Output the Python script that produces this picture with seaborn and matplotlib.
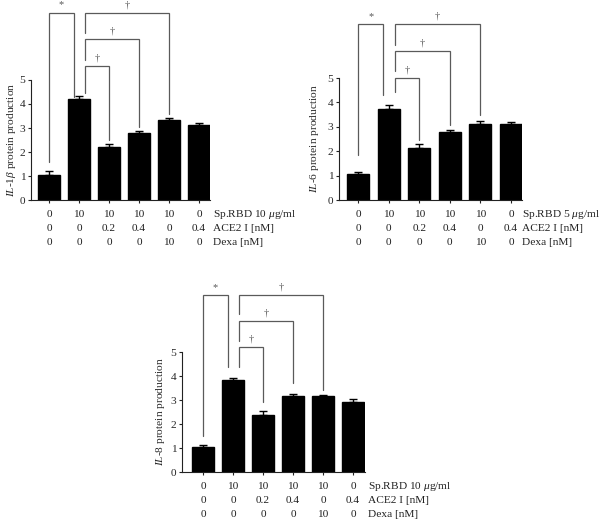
import numpy as np
import pandas as pd
import matplotlib as mpl
import matplotlib.pyplot as plt
import seaborn as sns

sns.set_style("ticks")
plt.rcParams['font.family'] = ['Liberation Serif', 'DejaVu Serif']
plt.rcParams['mathtext.fontset'] = 'custom'
plt.rcParams['mathtext.rm'] = 'Liberation Serif'
plt.rcParams['mathtext.it'] = 'Liberation Serif:italic'

# treatment groups (rows of the table under each panel)
groups = ["g1", "g2", "g3", "g4", "g5", "g6"]
sp_rbd = ["0", "10", "10", "10", "10", "0"]
ace2 = ["0", "0", "0.2", "0.4", "0", "0.4"]
dexa = ["0", "0", "0", "0", "10", "0"]

il1b_mean = [1.05, 4.20, 2.20, 2.78, 3.32, 3.13]
il1b_err = [0.15, 0.12, 0.13, 0.10, 0.10, 0.08]
il6_mean = [1.05, 3.75, 2.15, 2.80, 3.12, 3.12]
il6_err = [0.08, 0.15, 0.13, 0.08, 0.12, 0.08]
il8_mean = [1.03, 3.82, 2.38, 3.15, 3.15, 2.93]
il8_err = [0.08, 0.10, 0.15, 0.10, 0.07, 0.10]

FS = 8.2
BR_COL = '#5a5a5a'

fig = plt.figure(figsize=(6.02, 5.22), dpi=100)
W, H = 602, 522


def make_ax(left, y0, right, scale, ytop):
    return fig.add_axes([left / W, (H - y0) / H, (right - left) / W, ytop * scale / H])


def bracket(ax, x1, x2, h, e1, e2, sym):
    ax.plot([x1, x1, x2, x2], [e1, h, h, e2], color=BR_COL, lw=0.9,
            clip_on=False, solid_joinstyle='miter')
    ax.annotate(sym, xy=((x1 + x2) / 2, h), xytext=(0, 2.5), textcoords='offset points',
                ha='center', va='bottom', fontsize=7.5, color=BR_COL, annotation_clip=False)


def panel(ax, means, errs, ylabel, rbd_label, xlim, ytop, lab_x, ylab_x, brackets):
    df = pd.DataFrame({'group': groups, 'value': means})
    sns.barplot(data=df, x='group', y='value', color='black', width=0.72,
                saturation=1, errorbar=None, edgecolor='black', ax=ax)
    ax.errorbar(np.arange(len(means)), means, yerr=[np.zeros(len(errs)), errs],
                fmt='none', ecolor='black', elinewidth=1, capsize=2.9, capthick=1)
    ax.set_xlim(*xlim)
    ax.set_ylim(0, ytop)
    ax.set_yticks([0, 1, 2, 3, 4, 5])
    ax.set_xticks(np.arange(len(means)))
    ax.set_xticklabels([])
    ax.set_xlabel('')
    ax.set_ylabel(ylabel, fontsize=FS)
    ax.yaxis.set_label_coords(ylab_x, 2.5 / ytop)
    ax.tick_params(axis='y', labelsize=FS, length=2.5, width=0.8, pad=1.5, color='#222')
    ax.tick_params(axis='x', length=2.0, width=0.8, color='#222')
    for s in ['top', 'right']:
        ax.spines[s].set_visible(False)
    ax.spines['left'].set_bounds(0, 5)
    for s in ['left', 'bottom']:
        ax.spines[s].set_linewidth(0.8)
        ax.spines[s].set_color('#222')
    rows = [sp_rbd, ace2, dexa]
    labels = [rbd_label, 'ACE2 I [nM]', 'Dexa [nM]']
    offs = [10.4, 20.3, 30.3]
    for row, lab, off in zip(rows, labels, offs):
        for i, v in enumerate(row):
            ax.annotate(v, xy=(i, 0), xytext=(0, -off), textcoords='offset points',
                        ha='center', va='center', fontsize=FS, color='#222',
                        annotation_clip=False)
        ax.annotate(lab, xy=(lab_x, 0), xycoords=('axes fraction', 'data'),
                    xytext=(0, -off), textcoords='offset points',
                    ha='left', va='center', fontsize=FS, color='#222',
                    annotation_clip=False)
    for b in brackets:
        bracket(ax, *b)


ax1 = make_ax(31, 200, 210, 24, 8.2)
panel(ax1, il1b_mean, il1b_err,
      r'$\mathit{IL}$-1$\mathit{\beta}$ protein production', r'Sp.RBD 10 $\mathit{\mu}$g/ml',
      (-0.6, 5.37), 8.2, 1.017, -0.075,
      [(0, 0.83, 7.8, 1.6, 4.3, '*'),
       (1.2, 4, 7.8, 6.96, 3.6, '†'),
       (1.2, 3, 6.7, 5.83, 3.05, '†'),
       (1.2, 2, 5.6, 4.45, 2.5, '†')])

ax2 = make_ax(339, 200, 522, 24.4, 8.0)
panel(ax2, il6_mean, il6_err,
      r'$\mathit{IL}$-$\mathit{6}$ protein production', r'Sp.RBD 5 $\mathit{\mu}$g/ml',
      (-0.62, 5.36), 8.0, 1.0, -0.1,
      [(0, 0.83, 7.2, 1.84, 4.3, '*'),
       (1.2, 4, 7.2, 6.35, 3.48, '†'),
       (1.2, 3, 6.1, 5.29, 3.07, '†'),
       (1.2, 2, 5.0, 4.42, 2.45, '†')])

ax3 = make_ax(182, 472, 365, 24, 8.0)
panel(ax3, il8_mean, il8_err,
      r'$\mathit{IL}$-$\mathit{8}$ protein production', r'Sp.RBD 10 $\mathit{\mu}$g/ml',
      (-0.7, 5.4), 8.0, 1.016, -0.08,
      [(0, 0.83, 7.37, 1.5, 4.37, '*'),
       (1.2, 4, 7.37, 6.58, 3.42, '†'),
       (1.2, 3, 6.29, 5.46, 3.7, '†'),
       (1.2, 2, 5.2, 4.37, 2.9, '†')])

fig.savefig('out.png', dpi=100)
